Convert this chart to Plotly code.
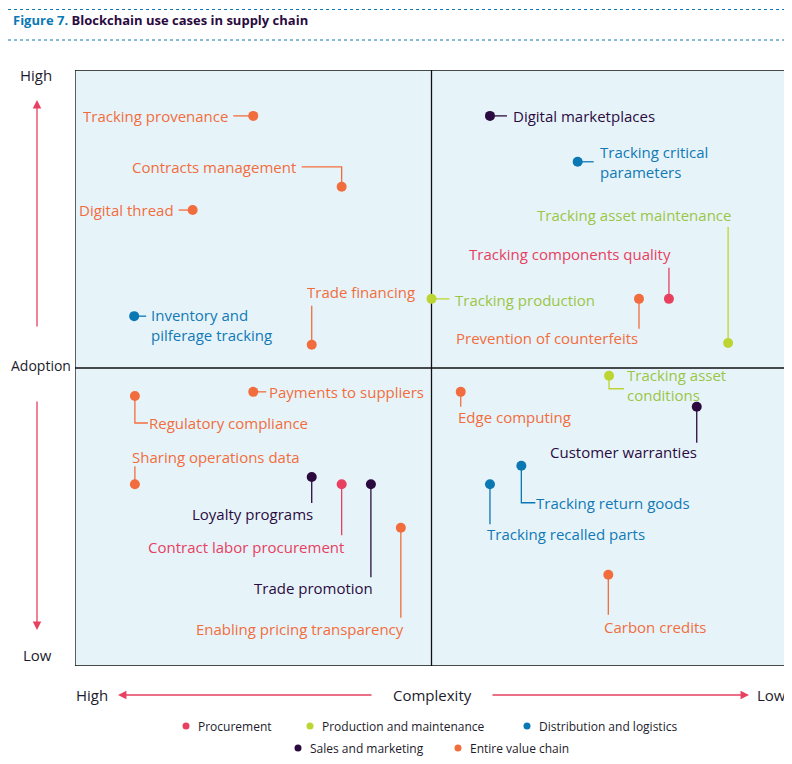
import plotly.graph_objects as go

# ---------------- data ----------------
categories = ["Procurement", "Production and maintenance", "Distribution and logistics",
              "Sales and marketing", "Entire value chain"]

use_cases = ["Tracking provenance", "Contracts management", "Digital thread", "Trade financing",
             "Inventory and<br>pilferage tracking", "Tracking production", "Digital marketplaces",
             "Tracking critical<br>parameters", "Tracking asset maintenance",
             "Tracking components quality", "Prevention of counterfeits", "Payments to suppliers",
             "Regulatory compliance", "Sharing operations data", "Loyalty programs",
             "Contract labor procurement", "Trade promotion", "Enabling pricing transparency",
             "Edge computing", "Tracking asset<br>conditions", "Customer warranties",
             "Tracking return goods", "Tracking recalled parts", "Carbon credits"]

# complexity axis: 0 = high complexity (left), 100 = low (right)
complexity = [25.0, 37.4, 16.5, 33.2, 8.3, 50.0, 58.2, 70.5, 91.6, 83.3, 79.1, 25.0,
              8.4, 8.4, 33.2, 37.4, 41.5, 45.7, 54.1, 74.9, 87.2, 62.6, 58.2, 74.8]
# adoption axis: 0 = low, 100 = high
adoption = [92.3, 80.4, 76.5, 53.9, 58.7, 61.6, 92.3, 84.6, 54.2, 61.6, 61.6, 46.0,
            45.3, 30.5, 31.7, 30.5, 30.5, 23.2, 46.0, 48.7, 43.5, 33.6, 30.5, 15.3]

case_category = ["Entire value chain", "Entire value chain", "Entire value chain", "Entire value chain",
                 "Distribution and logistics", "Production and maintenance", "Sales and marketing",
                 "Distribution and logistics", "Production and maintenance", "Procurement",
                 "Entire value chain", "Entire value chain", "Entire value chain", "Entire value chain",
                 "Sales and marketing", "Procurement", "Sales and marketing", "Entire value chain",
                 "Entire value chain", "Production and maintenance", "Sales and marketing",
                 "Distribution and logistics", "Distribution and logistics", "Entire value chain"]

# ---------------- style ----------------
dot_color = {"Procurement": "#E8405F", "Production and maintenance": "#BDD532",
             "Distribution and logistics": "#0B78B4", "Sales and marketing": "#2B0B3F",
             "Entire value chain": "#F26D3D"}
text_color = {"Procurement": "#E8405F", "Production and maintenance": "#9CC545",
              "Distribution and logistics": "#1279B5", "Sales and marketing": "#2B0B3F",
              "Entire value chain": "#F26D3D"}

# label placement: (anchor, dx px, dy px (down), leader path in px offsets)
label_style = [
    ("right", -23, 0, [(-20, 0), (0, 0)]),
    ("right", -44, -20, [(-40, -20), (0, -20), (0, 0)]),
    ("right", -17, 0, [(-14, 0), (0, 0)]),
    ("left", -7, -53, [(0, -39), (0, 0)]),
    ("left", 15, 9, [(0, 0), (12, 0)]),
    ("left", 21, 1, [(0, 0), (18, 0)]),
    ("left", 21, 0, [(0, 0), (17, 0)]),
    ("left", 20, 0, [(0, 0), (16, 0)]),
    ("right", 5, -128, [(0, -116), (0, 0)]),
    ("right", 4, -45, [(0, -31), (0, 0)]),
    ("right", 1, 39, [(0, 0), (0, 30)]),
    ("left", 14, 0, [(0, 0), (13, 0)]),
    ("left", 12, 27, [(0, 0), (0, 27), (13, 27)]),
    ("left", -5, -27, [(0, -18), (0, 0)]),
    ("right", 3, 37, [(0, 0), (0, 26)]),
    ("right", 4, 63, [(0, 0), (0, 51)]),
    ("right", 4, 104, [(0, 0), (0, 93)]),
    ("right", 5, 101, [(0, 0), (0, 90)]),
    ("left", -5, 25, [(0, 0), (0, 15)]),
    ("left", 16, 9, [(0, 0), (0, 13), (15, 13)]),
    ("right", 2, 45, [(0, 0), (0, 36)]),
    ("left", 13, 37, [(0, 0), (0, 37), (14, 37)]),
    ("left", -5, 50, [(0, 0), (0, 40)]),
    ("left", -6, 52, [(0, 0), (0, 40)]),
]

OFF = 8  # page body margin
W, H = 792 - OFF, 764 - OFF
ML, MR, MT, MB = 75 - OFF, 4, 70 - OFF, 98
PW, PH = W - ML - MR, H - MT - MB
PX_X, PX_Y = PW / 100.0, PH / 100.0
FONT = "Open Sans"
DARK = "#1C1C2C"


def px(xp):
    return (xp - OFF - ML) / PW


def py(yp):
    return (H - MB - (yp - OFF)) / PH


fig = go.Figure()

# leader lines
for i, name in enumerate(use_cases):
    anchor, dx, dy, path = label_style[i]
    cx, cy = complexity[i], adoption[i]
    fig.add_trace(go.Scatter(
        x=[cx + p[0] / PX_X for p in path], y=[cy - p[1] / PX_Y for p in path],
        mode="lines", line=dict(color=dot_color[case_category[i]], width=1.3),
        hoverinfo="skip", showlegend=False))

# points per category
for cat in categories:
    idx = [i for i, c in enumerate(case_category) if c == cat]
    fig.add_trace(go.Scatter(
        x=[complexity[i] for i in idx], y=[adoption[i] for i in idx],
        mode="markers", name=cat, showlegend=False,
        marker=dict(color=dot_color[cat], size=10, line=dict(width=0)),
        text=[use_cases[i].replace("<br>", " ") for i in idx], hoverinfo="text"))

annotations = []
for i, name in enumerate(use_cases):
    anchor, dx, dy, path = label_style[i]
    annotations.append(dict(
        x=complexity[i], y=adoption[i], xref="x", yref="y", text=name, showarrow=False,
        xshift=dx, yshift=-dy, xanchor=anchor, yanchor="middle", align=anchor,
        font=dict(family=FONT, size=15, color=text_color[case_category[i]])))

# axis labels
for txt, xp, yp, fs in [("High", 36, 75, 15), ("Adoption", 41, 366, 14), ("Low", 37, 655, 15),
                        ("High", 92, 695, 15), ("Complexity", 432, 695, 15), ("Low", 771, 695, 15)]:
    annotations.append(dict(x=px(xp), y=py(yp), xref="paper", yref="paper", text=txt,
                            showarrow=False, xanchor="center", yanchor="middle",
                            font=dict(family=FONT, size=fs, color=DARK)))

# axis arrows
ARROW = "#E8405F"
for hx, hy, ax, ay in [(37, 100, 0, 228), (37, 630, 0, -230), (118, 695, 255, 0), (749, 695, -258, 0)]:
    annotations.append(dict(x=px(hx), y=py(hy), xref="paper", yref="paper", text="",
                            showarrow=True, ax=ax, ay=ay, arrowhead=2, arrowsize=1.3,
                            arrowwidth=1.3, arrowcolor=ARROW))

# title
annotations.append(dict(
    x=px(11), y=py(20), xref="paper", yref="paper", xanchor="left", yanchor="middle",
    showarrow=False,
    text="<b><span style='color:#0B78B4'>Figure 7.</span> Blockchain use cases in supply chain</b>",
    font=dict(family=FONT, size=13, color="#2B0B3F")))

# manual legend
shapes = []
legend_pos = {"Procurement": (186, 726), "Production and maintenance": (310, 726),
              "Distribution and logistics": (527, 726), "Sales and marketing": (298, 748),
              "Entire value chain": (458, 748)}
r = 3.5
for cat in categories:
    lx, ly = legend_pos[cat]
    shapes.append(dict(type="circle", xref="paper", yref="paper",
                       x0=px(lx - r), x1=px(lx + r), y0=py(ly + r), y1=py(ly - r),
                       fillcolor=dot_color[cat], line=dict(width=0)))
    annotations.append(dict(x=px(lx + 10), y=py(ly), xref="paper", yref="paper", text=cat,
                            showarrow=False, xanchor="left", yanchor="middle",
                            font=dict(family=FONT, size=12, color=DARK)))

# frame and quadrant dividers
shapes += [
    dict(type="rect", xref="x", yref="y", x0=0, x1=100, y0=0, y1=100,
         line=dict(color="#111111", width=1.3), fillcolor="rgba(0,0,0,0)", layer="above"),
    dict(type="line", xref="x", yref="y", x0=50, x1=50, y0=0, y1=100,
         line=dict(color="#111111", width=1.3), layer="below"),
    dict(type="line", xref="x", yref="y", x0=0, x1=100, y0=50, y1=50,
         line=dict(color="#111111", width=1.3), layer="below"),
    dict(type="line", xref="paper", yref="paper", x0=px(8), x1=px(792), y0=py(9.5), y1=py(9.5),
         line=dict(color="#0B78B4", width=1, dash="dot")),
    dict(type="line", xref="paper", yref="paper", x0=px(8), x1=px(792), y0=py(40), y1=py(40),
         line=dict(color="#0B78B4", width=1, dash="dot")),
]

fig.update_layout(
    width=W, height=H, margin=dict(l=ML, r=MR, t=MT, b=MB, autoexpand=False),
    paper_bgcolor="white", plot_bgcolor="#E6F4FA",
    xaxis=dict(range=[0, 100], showgrid=False, zeroline=False, showticklabels=False,
               ticks="", fixedrange=True),
    yaxis=dict(range=[0, 100], showgrid=False, zeroline=False, showticklabels=False,
               ticks="", fixedrange=True),
    annotations=annotations, shapes=shapes, showlegend=False,
    font=dict(family=FONT, color=DARK),
)

fig.write_html("out.html")
